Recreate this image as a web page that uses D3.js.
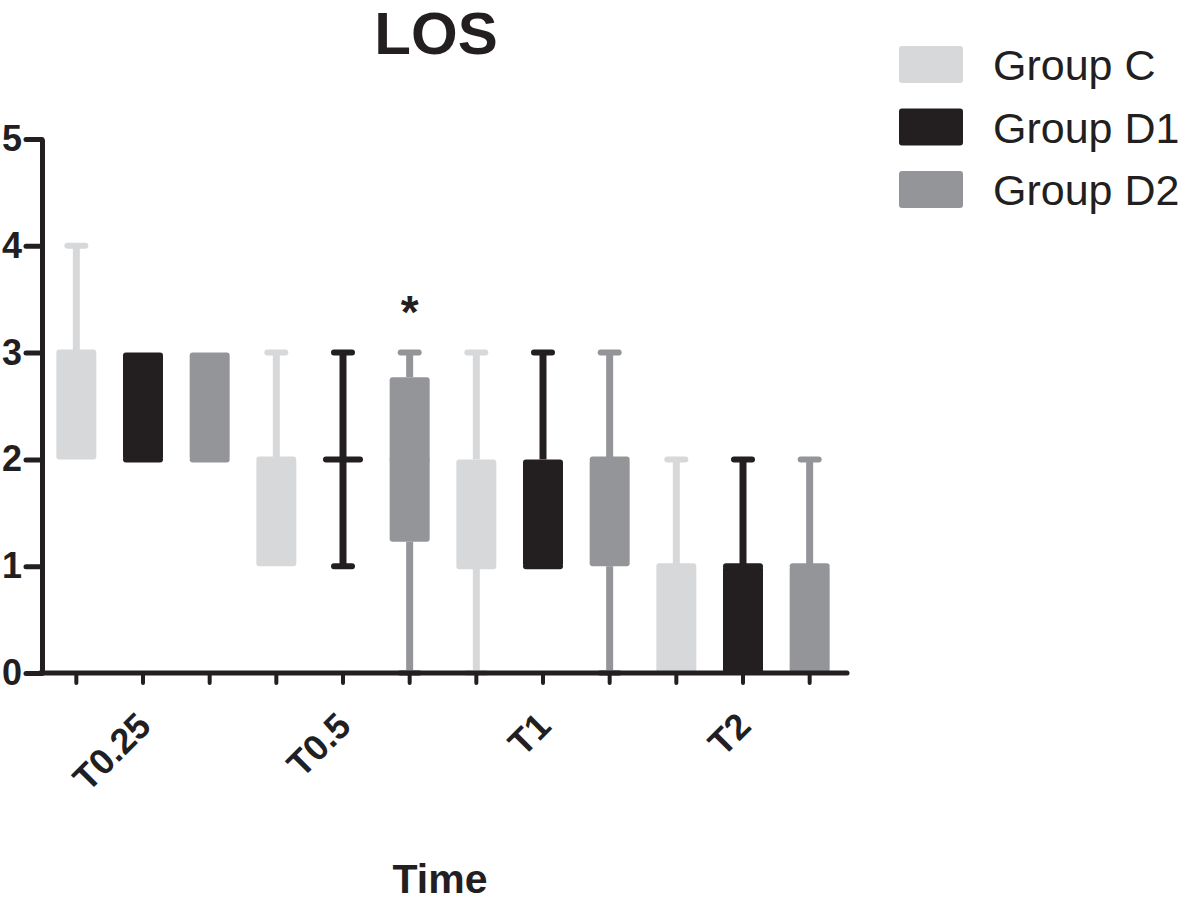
<!DOCTYPE html>
<html>
<head>
<meta charset="utf-8">
<script src="https://cdn.jsdelivr.net/npm/d3@7/dist/d3.min.js"></script>
<style>
  html, body { margin: 0; padding: 0; background: #fff; }
  svg { display: block; font-family: "Liberation Sans", Arial, sans-serif; }
</style>
</head>
<body>
<svg id="chart" width="1181" height="902"></svg>
<script>
// ---- data ----
const categories = ["T0.25", "T0.5", "T1", "T2"];
const groups = ["Group C", "Group D1", "Group D2"];
const groupColors = ["#d7d8da", "#231f20", "#949599"];

// box statistics per group, one value per category
const minC  = [2, 1, 0, 0];
const q1C   = [2, 1, 1, 0];
const medC  = [3, 2, 1, 1];
const q3C   = [3, 2, 2, 1];
const maxC  = [4, 3, 3, 2];

const minD1 = [2, 1, 1, 0];
const q1D1  = [2, 2, 1, 0];
const medD1 = [2, 2, 1, 1];
const q3D1  = [3, 2, 2, 1];
const maxD1 = [3, 3, 3, 2];

const minD2 = [2, 0, 0, 0];
const q1D2  = [2, 1.23, 1, 0];
const medD2 = [2, 2, 2, 1];
const q3D2  = [3, 2.77, 2, 1];
const maxD2 = [3, 3, 3, 2];

const yTicks = [0, 1, 2, 3, 4, 5];
const stars = [["T0.5", "Group D2", "*"]];

const chartTitle = "LOS";
const xTitle = "Time";

// ---- build table ----
const stats = {
  "Group C":  {min: minC,  q1: q1C,  med: medC,  q3: q3C,  max: maxC},
  "Group D1": {min: minD1, q1: q1D1, med: medD1, q3: q3D1, max: maxD1},
  "Group D2": {min: minD2, q1: q1D2, med: medD2, q3: q3D2, max: maxD2}
};
const boxes = [];
categories.forEach((c, ci) => {
  groups.forEach((g, gi) => {
    const s = stats[g];
    boxes.push({cat: c, group: g, color: groupColors[gi],
      min: s.min[ci], q1: s.q1[ci], med: s.med[ci], q3: s.q3[ci], max: s.max[ci]});
  });
});

// ---- layout ----
const svg = d3.select("#chart");
const ink = "#231f20";
const x0 = d3.scaleBand().domain(categories).range([43, 843]).padding(0);
const x1 = d3.scaleBand().domain(groups).range([0, x0.bandwidth()]).padding(0);
const y = d3.scaleLinear().domain([0, 5]).range([673, 139]);
const color = d3.scaleOrdinal().domain(groups).range(groupColors);
const cx = d => x0(d.cat) + x1(d.group) + x1.bandwidth() / 2;

const boxW = 40, capW = 24, whiskerW = 7, capT = 6;

// boxes and whiskers
const gBox = svg.append("g");
boxes.forEach(d => {
  const g = gBox.append("g");
  const xc = cx(d);
  if (d.max > d.q3) {
    g.append("line").attr("x1", xc).attr("x2", xc).attr("y1", y(d.q3)).attr("y2", y(d.max))
      .attr("stroke", d.color).attr("stroke-width", whiskerW);
    g.append("line").attr("x1", xc - capW / 2 + capT / 2).attr("x2", xc + capW / 2 - capT / 2)
      .attr("y1", y(d.max)).attr("y2", y(d.max))
      .attr("stroke", d.color).attr("stroke-width", capT).attr("stroke-linecap", "round");
  }
  if (d.min < d.q1) {
    g.append("line").attr("x1", xc).attr("x2", xc).attr("y1", y(d.q1)).attr("y2", y(d.min))
      .attr("stroke", d.color).attr("stroke-width", whiskerW);
    g.append("line").attr("x1", xc - capW / 2 + capT / 2).attr("x2", xc + capW / 2 - capT / 2)
      .attr("y1", y(d.min)).attr("y2", y(d.min))
      .attr("stroke", d.color).attr("stroke-width", capT).attr("stroke-linecap", "round");
  }
  if (d.q3 > d.q1) {
    g.append("rect").attr("x", xc - boxW / 2).attr("width", boxW)
      .attr("y", y(d.q3)).attr("height", y(d.q1) - y(d.q3))
      .attr("rx", 3).attr("ry", 3).attr("fill", d.color);
  }
  // median line
  g.append("line").attr("x1", xc - boxW / 2 + capT / 2).attr("x2", xc + boxW / 2 - capT / 2)
    .attr("y1", y(d.med)).attr("y2", y(d.med))
    .attr("stroke", d.color).attr("stroke-width", capT).attr("stroke-linecap", "round");
});

// significance marks
stars.forEach(([c, gname, t]) => {
  const b = boxes.find(d => d.cat === c && d.group === gname);
  svg.append("text").attr("x", cx(b)).attr("y", y(b.max) - 25)
    .attr("text-anchor", "middle").attr("font-size", 46).attr("font-weight", "bold")
    .attr("fill", ink).text(t);
});

// y axis
const yAxis = svg.append("g").attr("transform", "translate(42,0)")
  .call(d3.axisLeft(y).tickValues(yTicks).tickFormat(d3.format("d")).tickSize(16).tickSizeOuter(0).tickPadding(4));
yAxis.select(".domain").attr("stroke", ink).attr("stroke-width", 5);
yAxis.selectAll(".tick line").attr("stroke", ink).attr("stroke-width", 5).attr("stroke-linecap", "round");
yAxis.selectAll(".tick text").attr("font-size", 36).attr("font-weight", "bold")
  .attr("fill", ink).attr("font-family", "Liberation Sans, Arial, sans-serif");

// x axis line
svg.append("line").attr("x1", 40).attr("x2", 847).attr("y1", y(0)).attr("y2", y(0))
  .attr("stroke", ink).attr("stroke-width", 5).attr("stroke-linecap", "round");
// x ticks at every box
svg.append("g").selectAll("line").data(boxes).join("line")
  .attr("x1", cx).attr("x2", cx).attr("y1", y(0)).attr("y2", y(0) + 10)
  .attr("stroke", ink).attr("stroke-width", 4).attr("stroke-linecap", "round");

// category labels
svg.append("g").selectAll("text").data(categories).join("text")
  .attr("transform", c => `translate(${x0(c) + x0.bandwidth() / 2 + 10},728) rotate(-45)`)
  .attr("text-anchor", "end").attr("font-size", 36).attr("font-weight", "bold")
  .attr("fill", ink).text(c => c);

// titles
svg.append("text").attr("x", 436).attr("y", 54).attr("text-anchor", "middle")
  .attr("font-size", 60).attr("font-weight", "bold").attr("fill", ink).text(chartTitle);
svg.append("text").attr("x", 440).attr("y", 893).attr("text-anchor", "middle")
  .attr("font-size", 41).attr("font-weight", "bold").attr("fill", ink).text(xTitle);

// legend
const leg = svg.append("g").selectAll("g").data(groups).join("g")
  .attr("transform", (d, i) => `translate(899,${46 + i * 62.5})`);
leg.append("rect").attr("width", 64).attr("height", 37).attr("rx", 3).attr("ry", 3)
  .attr("fill", d => color(d));
leg.append("text").attr("x", 94).attr("y", 34).attr("font-size", 43)
  .attr("fill", ink).text(d => d);
</script>
</body>
</html>
